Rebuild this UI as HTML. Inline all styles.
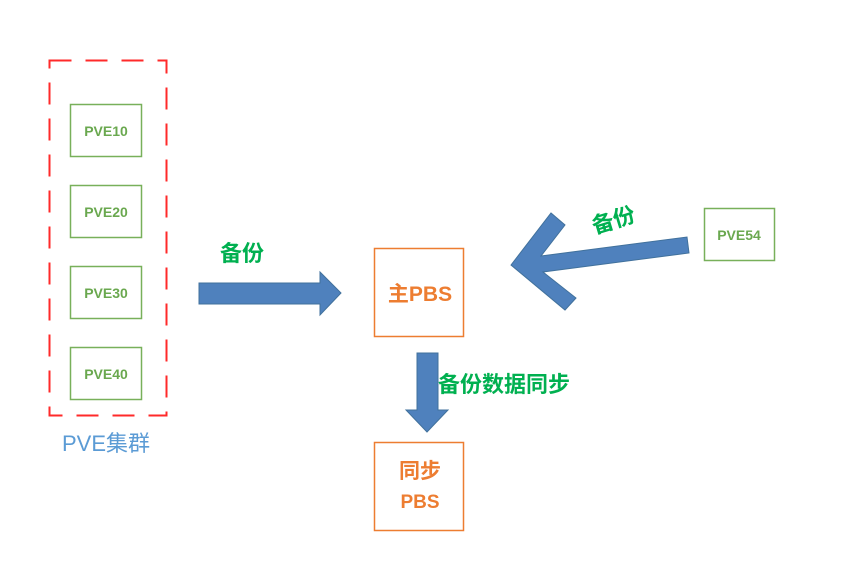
<!DOCTYPE html>
<html><head><meta charset="utf-8"><style>
body{margin:0;background:#fff;width:860px;height:567px;overflow:hidden;font-family:"Liberation Sans","Noto Sans CJK SC",sans-serif}
</style></head><body>
<svg width="860" height="567" xmlns="http://www.w3.org/2000/svg" style="position:absolute;left:0;top:0">
<rect x="49.5" y="60.5" width="117" height="355" fill="none" stroke="#ff2a2a" stroke-width="2" stroke-dasharray="22,14"/>
<g fill="#fff" stroke="#78b05a" stroke-width="1.5">
<rect x="70.5" y="104.5" width="71" height="52"/>
<rect x="70.5" y="185.5" width="71" height="52"/>
<rect x="70.5" y="266.5" width="71" height="52"/>
<rect x="70.5" y="347.5" width="71" height="52"/>
<rect x="704.5" y="208.5" width="70" height="52"/>
</g>
<g fill="#6aa84f" font-weight="bold" font-size="14" text-anchor="middle" font-family="Liberation Sans,sans-serif">
<text x="106" y="136">PVE10</text>
<text x="106" y="217">PVE20</text>
<text x="106" y="298">PVE30</text>
<text x="106" y="379">PVE40</text>
<text x="739" y="240">PVE54</text>
</g>
<text x="106" y="451" fill="#5b9bd5" font-size="22" text-anchor="middle" font-family="Liberation Sans,Noto Sans CJK SC,sans-serif">PVE集群</text>
<g fill="#fff" stroke="#ed7d31" stroke-width="1.5">
<rect x="374.5" y="248.5" width="89" height="88"/>
<rect x="374.5" y="442.5" width="89" height="88"/>
</g>
<g fill="#ed7d31" font-weight="bold" text-anchor="middle" font-family="Liberation Sans,Noto Sans CJK SC,sans-serif">
<text x="420" y="301" font-size="21">主PBS</text>
<text x="420" y="478" font-size="21">同步</text>
<text x="420" y="508" font-size="19">PBS</text>
</g>
<g fill="#4f81bd" stroke="#41719c" stroke-width="1">
<polygon points="199,283 320,283 320,272 341,293 320,315 320,304 199,304"/>
<polygon points="417,353 438,353 438,410 448,410 427,432 406,410 417,410"/>
<polygon points="511,265 551,213 565,225 541,256 687,237 689,253 543,272 576,298 565,310"/>
</g>
<g fill="#00b050" font-weight="bold" font-family="Liberation Sans,Noto Sans CJK SC,sans-serif">
<text x="220" y="261" font-size="22">备份</text>
<text x="438" y="392" font-size="22">备份数据同步</text>
<text x="590" y="228" font-size="22" transform="rotate(-17 612 215)">备份</text>
</g>
</svg>
</body></html>
